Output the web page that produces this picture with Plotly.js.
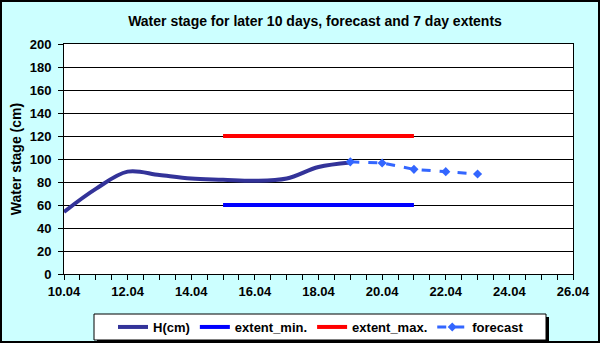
<!DOCTYPE html>
<html>
<head>
<meta charset="utf-8">
<script src="https://cdn.plot.ly/plotly-3.0.1.min.js"></script>
<style>
  html, body { margin: 0; padding: 0; background: #ccffff; }
  #wrap { position: relative; width: 600px; height: 343px; }
  #chart { width: 600px; height: 343px; }
  #frame { position: absolute; left: 0; top: 0; width: 600px; height: 343px;
    box-sizing: border-box; border: 2px solid #000; pointer-events: none; }
</style>
</head>
<body>
<div id="wrap">
  <div id="chart"></div>
  <div id="frame"></div>
</div>
<script>
// measured water stage (cm), one value per day
const hDates = ["2010-04-10", "2010-04-11", "2010-04-12", "2010-04-13", "2010-04-14",
  "2010-04-15", "2010-04-16", "2010-04-17", "2010-04-18", "2010-04-19"];
const hValues = [54, 74, 89, 86, 83, 82, 81, 83, 93, 97];

// 7 day extents
const extentDates = ["2010-04-15", "2010-04-21"];
const extentMin = [60, 60];
const extentMax = [120, 120];

// forecast
const fcDates = ["2010-04-19", "2010-04-20", "2010-04-21", "2010-04-22", "2010-04-23"];
const fcValues = [97.5, 96.5, 91, 89, 87];

const xRange = ["2010-04-10", "2010-04-26"];
const DAY = 86400000;

const fam = "Liberation Sans, Arial, sans-serif";

// plot area in pixels (for placing the legend box)
const PL = 64, PW = 509, PB = 274, PH = 230;
const px = (v) => (v - PL) / PW;
const py = (v) => (PB - v) / PH;

const traceH = {
  x: hDates, y: hValues, mode: "lines", name: "<b>H(cm)</b>",
  line: { color: "#333399", width: 4, shape: "spline", smoothing: 1 },
};
const traceMin = {
  x: extentDates, y: extentMin, mode: "lines", name: "<b>extent_min.</b>",
  line: { color: "#0000ff", width: 4 },
};
const traceMax = {
  x: extentDates, y: extentMax, mode: "lines", name: "<b>extent_max.</b>",
  line: { color: "#ff0000", width: 4 },
};
const traceFc = {
  x: fcDates, y: fcValues, mode: "lines+markers", name: "<b>forecast</b>",
  line: { color: "#3366ff", width: 3, dash: "dash" },
  marker: { color: "#3366ff", symbol: "diamond", size: 7 },
};

const layout = {
  width: 600, height: 343,
  paper_bgcolor: "#ccffff",
  plot_bgcolor: "#ffffff",
  font: { family: fam, size: 13, color: "#000" },
  margin: { l: 64, r: 27, t: 44, b: 69 },
  title: {
    text: "<b>Water stage for later 10 days, forecast and 7 day extents</b>",
    font: { family: fam, size: 14, color: "#000" },
    x: 0.525, xanchor: "center", y: 1 - 21 / 343, yanchor: "middle",
  },
  xaxis: {
    type: "date", range: xRange, automargin: false,
    tickformat: "<b>%d.%m</b>", dtick: 2 * DAY, tick0: "2010-04-10",
    ticks: "outside", ticklen: 5, tickcolor: "#000", tickwidth: 1,
    minor: { dtick: DAY / 2, ticks: "outside", ticklen: 5, tickcolor: "#000", showgrid: false },
    showgrid: false, showline: true, linecolor: "#000", linewidth: 1, mirror: true,
    tickfont: { family: fam, size: 13, color: "#000" },
    zeroline: false, fixedrange: true,
  },
  yaxis: {
    range: [0, 200], dtick: 20, automargin: false,
    ticks: "outside", ticklen: 5, tickcolor: "#000",
    ticklabelstandoff: 4,
    showgrid: true, gridcolor: "#000", gridwidth: 1,
    showline: true, linecolor: "#000", linewidth: 1, mirror: true,
    tickprefix: "<b>", ticksuffix: "</b>",
    tickfont: { family: fam, size: 13, color: "#000" },
    title: { text: "<b>Water stage (cm)</b>", font: { family: fam, size: 14, color: "#000" }, standoff: 4 },
    zeroline: false, fixedrange: true,
  },
  showlegend: true,
  legend: {
    orientation: "h", xref: "container", yref: "container",
    x: 321 / 600, xanchor: "center", y: 1 - 327 / 343, yanchor: "middle",
    bgcolor: "rgba(0,0,0,0)", borderwidth: 0,
    font: { family: fam, size: 13, color: "#000" },
    tracegroupgap: 0,
  },
  shapes: [
    // legend shadow and box
    { type: "rect", xref: "paper", yref: "paper", layer: "below",
      x0: px(97), x1: px(549), y0: py(343), y1: py(317),
      fillcolor: "#000", line: { width: 0 } },
    { type: "rect", xref: "paper", yref: "paper", layer: "below",
      x0: px(94), x1: px(546), y0: py(340), y1: py(314),
      fillcolor: "#fff", line: { color: "#000", width: 1 } },
  ],
};

Plotly.newPlot("chart", [traceH, traceMin, traceMax, traceFc], layout, { displayModeBar: false, staticPlot: true });
</script>
</body>
</html>
